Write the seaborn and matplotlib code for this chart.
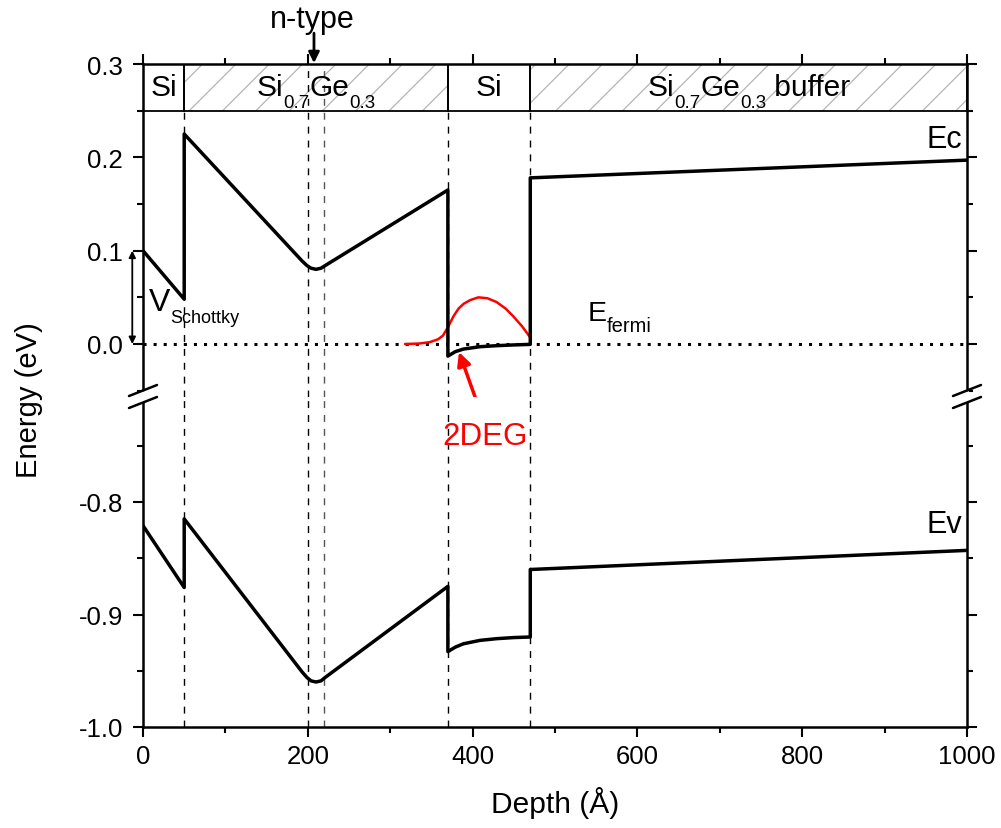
import numpy as np
import pandas as pd
import matplotlib
matplotlib.use("Agg")
import matplotlib.pyplot as plt
import seaborn as sns
from matplotlib.lines import Line2D
from matplotlib.patches import Polygon
from matplotlib.transforms import IdentityTransform

# ---------------- data ----------------
depth_ec = [0, 50, 50, 193, 199, 204, 210, 216, 221, 370, 370, 379, 389, 409, 429, 450, 470, 470, 1000]
ec_energy = [0.100, 0.048, 0.225, 0.089, 0.084, 0.0812, 0.0800, 0.0812, 0.084, 0.165,
             -0.013, -0.0082, -0.0054, -0.0029, -0.0018, -0.0010, -0.0004, 0.178, 0.197]

depth_ev = [0, 50, 50, 193, 199, 204, 210, 216, 221, 370, 370, 379, 389, 409, 429, 450, 470, 470, 1000]
ev_energy = [-0.821, -0.876, -0.815, -0.951, -0.956, -0.959, -0.960, -0.959, -0.956, -0.875,
             -0.933, -0.929, -0.926, -0.923, -0.9215, -0.9205, -0.920, -0.860, -0.843]

depth_2deg = [318, 335, 348, 358, 364, 370, 377, 383, 389, 397, 407, 418, 429, 440, 449, 460, 470]
psi_2deg = [0.000, 0.0005, 0.002, 0.005, 0.009, 0.018, 0.030, 0.038, 0.043, 0.047, 0.050,
            0.049, 0.045, 0.038, 0.030, 0.019, 0.007]

fermi_depth = [0, 1000]
fermi_energy = [0.0, 0.0]

layer_start = [0, 50, 370, 470]
layer_width = [50, 320, 100, 530]
layer_hatched = [False, True, False, True]
layer_labels = [
    [("Si", False)],
    [("Si", False), ("0.7", True), ("Ge", False), ("0.3", True)],
    [("Si", False)],
    [("Si", False), ("0.7", True), ("Ge", False), ("0.3", True), (" buffer", False)],
]

interfaces_full = [200, 220]
interfaces = [50, 370, 470]

x_ticks = [0, 200, 400, 600, 800, 1000]
y_ticks_top = [0.0, 0.1, 0.2, 0.3]
y_ticks_bot = [-1.0, -0.9, -0.8]

# ---------------- style ----------------
sns.set_theme(style="ticks")
plt.rcParams["font.family"] = ["Liberation Sans", "DejaVu Sans"]
for k in ["text.color", "axes.labelcolor", "xtick.color", "ytick.color", "axes.edgecolor"]:
    plt.rcParams[k] = "black"
plt.rcParams["hatch.linewidth"] = 0.9

W, H = 1001, 829
fig = plt.figure(figsize=(W / 100, H / 100), dpi=100)

def fy(p):
    return 1 - p / H

left = 143 / W
width = (967 - 143) / W
ybreak = 398
ax_top = fig.add_axes([left, fy(ybreak), width, (ybreak - 65) / H])
ax_bot = fig.add_axes([left, fy(728), width, (728 - ybreak) / H])

top_ylim = (-(ybreak - 345) / 933.3, 0.3)
bot_ylim = (-1.0, -0.8 + (503 - ybreak) / 1125)

for ax in (ax_top, ax_bot):
    ax.set_xlim(0, 1000)
    for s in ax.spines.values():
        s.set_linewidth(1.8)
        s.set_color("black")
    ax.tick_params(which="major", direction="out", length=7.5, width=1.5, labelsize=18.5,
                   colors="black")
    ax.tick_params(which="minor", direction="out", length=4, width=1.5, colors="black")
    ax.tick_params(axis="y", which="major", pad=7)
    ax.tick_params(axis="x", which="major", pad=5)
    ax.set_facecolor("white")

ax_top.set_ylim(*top_ylim)
ax_bot.set_ylim(*bot_ylim)

ax_top.spines["bottom"].set_visible(False)
ax_bot.spines["top"].set_visible(False)

ax_top.set_xticks(x_ticks)
ax_top.set_xticks([100, 300, 500, 700, 900], minor=True)
ax_top.tick_params(axis="x", which="both", bottom=False, top=True, labelbottom=False, labeltop=False)
ax_bot.set_xticks(x_ticks)
ax_bot.set_xticks([100, 300, 500, 700, 900], minor=True)
ax_bot.set_xticklabels([str(v) for v in x_ticks])
ax_bot.tick_params(axis="x", which="both", bottom=True, top=False)

ax_top.set_yticks(y_ticks_top)
ax_top.set_yticklabels(["0.0", "0.1", "0.2", "0.3"])
ax_top.set_yticks([-0.05, 0.05, 0.15, 0.25], minor=True)
ax_bot.set_yticks(y_ticks_bot)
ax_bot.set_yticklabels(["-1.0", "-0.9", "-0.8"])
ax_bot.set_yticks([-0.95, -0.85, -0.75], minor=True)
for ax in (ax_top, ax_bot):
    ax.tick_params(axis="y", which="both", left=True, right=True, labelright=False)

# ---------------- layer bar ----------------
for x0, w, h in zip(layer_start, layer_width, layer_hatched):
    if h:
        ax_top.bar(x0, 0.05, width=w, bottom=0.25, align="edge", color="none",
                   edgecolor="#b5b5b5", linewidth=0, hatch="/", zorder=1)
    ax_top.bar(x0, 0.05, width=w, bottom=0.25, align="edge", color="none",
               edgecolor="black", linewidth=1.3, zorder=2)

# ---------------- dashed interfaces ----------------
dash = (0, (5, 5))
for xv in interfaces:
    ax_top.vlines(xv, top_ylim[0], 0.25, colors="black", linestyles=dash, linewidth=1.0, zorder=1)
    ax_bot.vlines(xv, bot_ylim[0], bot_ylim[1], colors="black", linestyles=dash, linewidth=1.0, zorder=1)
for xv, c in zip(interfaces_full, ["black", "#555555"]):
    ax_top.vlines(xv, top_ylim[0], 0.3, colors=c, linestyles=dash, linewidth=1.0, zorder=1)
    ax_bot.vlines(xv, bot_ylim[0], bot_ylim[1], colors=c, linestyles=dash, linewidth=1.0, zorder=1)

# ---------------- curves ----------------
df_ec = pd.DataFrame({"depth": depth_ec, "E": ec_energy})
df_ev = pd.DataFrame({"depth": depth_ev, "E": ev_energy})
df_2d = pd.DataFrame({"depth": depth_2deg, "E": psi_2deg})
df_f = pd.DataFrame({"depth": fermi_depth, "E": fermi_energy})

sns.lineplot(data=df_f, x="depth", y="E", ax=ax_top, color="black", linewidth=2.2,
             linestyle=(0, (1, 2.3)), sort=False, estimator=None, zorder=3)
sns.lineplot(data=df_2d, x="depth", y="E", ax=ax_top, color="#ff0000", linewidth=1.8,
             sort=False, estimator=None, zorder=4)
sns.lineplot(data=df_ec, x="depth", y="E", ax=ax_top, color="black", linewidth=2.5,
             sort=False, estimator=None, zorder=5)
sns.lineplot(data=df_ev, x="depth", y="E", ax=ax_bot, color="black", linewidth=2.5,
             sort=False, estimator=None, zorder=5)
for ax in (ax_top, ax_bot):
    ax.set_xlabel("")
    ax.set_ylabel("")

# ---------------- text helper (Origin-style subscripts) ----------------
renderer = fig.canvas.get_renderer()

def draw_runs(x_px, base_px, runs, main_fs, sub_fs, sub_dy, ha="center", color="black"):
    """runs: list of (text, is_sub). x_px in display px, base_px in image px (top origin)."""
    texts, widths = [], []
    for s, sub in runs:
        t = fig.text(0, 0, s, fontsize=(sub_fs if sub else main_fs), color=color,
                     transform=IdentityTransform(), ha="left", va="baseline")
        widths.append(t.get_window_extent(renderer).width)
        texts.append((t, sub))
    total = sum(widths)
    x = x_px - total / 2 if ha == "center" else x_px
    for (t, sub), w in zip(texts, widths):
        t.set_position((x, H - base_px - (sub_dy if sub else 0)))
        x += w

def xdisp(ax, depth):
    return ax.transData.transform((depth, 0))[0]

for x0, w, runs in zip(layer_start, layer_width, layer_labels):
    draw_runs(xdisp(ax_top, x0 + w / 2), 96, runs, 21.5, 13.5, 12)

# ---------------- annotations ----------------
ax_top.text(994, 0.22, "Ec", ha="right", va="center", fontsize=22)
ax_bot.text(994, -0.82, "Ev", ha="right", va="center", fontsize=22)
draw_runs(xdisp(ax_top, 540), 321, [("E", False), ("fermi", True)], 20.5, 14.5, 11, ha="left")
draw_runs(xdisp(ax_top, 7), 311, [("V", False), ("Schottky", True)], 23, 13, 12, ha="left")

ax_top.annotate("", xy=(-13, 0.1), xytext=(-13, 0.0), annotation_clip=False,
                arrowprops=dict(arrowstyle="<|-|>", color="black", lw=1.3,
                                mutation_scale=10, shrinkA=0, shrinkB=0))
ax_top.annotate("", xy=(207.5, 0.301), xytext=(207.5, 0.333), annotation_clip=False,
                arrowprops=dict(arrowstyle="-|>", color="black", lw=2.0,
                                mutation_scale=16, shrinkA=0, shrinkB=0))
fig.text(312 / W, fy(20), "n-type", ha="center", va="center", fontsize=22)

ax_top.annotate("", xy=(383.5, -0.0086), xytext=(412.6, -0.0804), annotation_clip=False,
                arrowprops=dict(arrowstyle="-|>", color="#ff0000", lw=2.5,
                                mutation_scale=20, shrinkA=0, shrinkB=0))
fig.text(485 / W, fy(437), "2DEG", ha="center", va="center", fontsize=22.5, color="#ff0000")

fig.text(29 / W, fy(400), "Energy (eV)", ha="center", va="center", rotation=90, fontsize=21)
fig.text(555 / W, fy(803), "Depth (Å)", ha="center", va="center", fontsize=21.5)

# ---------------- axis break marks ----------------
for xc in (143, 967):
    up = [(xc - 14, 397), (xc + 14, 386)]
    lo = [(xc - 14, 409), (xc + 14, 398)]
    fig.add_artist(Polygon([(xc / W - 2 / W, fy(393)), (xc / W + 2 / W, fy(392)),
                            (xc / W + 2 / W, fy(403.5)), (xc / W - 2 / W, fy(404.5))],
                           closed=True, transform=fig.transFigure, facecolor="white",
                           edgecolor="none", zorder=10))
    for seg in (up, lo):
        fig.add_artist(Line2D([seg[0][0] / W, seg[1][0] / W], [fy(seg[0][1]), fy(seg[1][1])],
                              transform=fig.transFigure, color="black", lw=1.8, zorder=11))

fig.savefig("out.png", dpi=100, facecolor="white")
